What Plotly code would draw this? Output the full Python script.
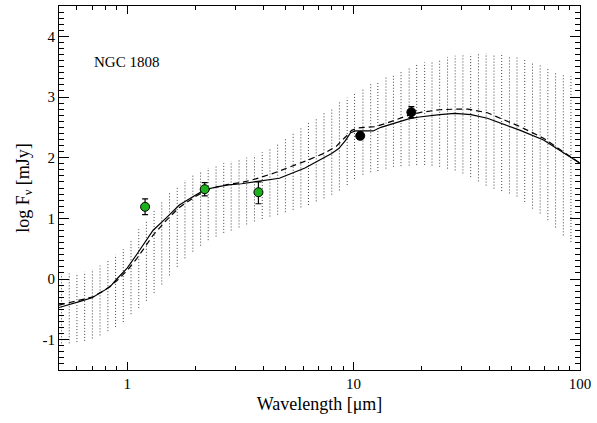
import plotly.graph_objects as go

# ---- data ----
band_wl = [0.513, 0.555, 0.600, 0.649, 0.702, 0.759, 0.822, 0.889, 0.961, 1.040,
           1.125, 1.216, 1.315, 1.422, 1.538, 1.664, 1.80, 1.95, 2.11, 2.28,
           2.47, 2.67, 2.88, 3.12, 3.37, 3.65, 3.95, 4.27, 4.62, 5.00,
           5.41, 5.85, 6.32, 6.84, 7.40, 8.01, 8.66, 9.37, 10.1, 11.0,
           11.9, 12.8, 13.9, 15.0, 16.2, 17.6, 19.0, 20.6, 22.2, 24.0,
           26.0, 28.1, 30.4, 32.9, 35.6, 38.5, 41.7, 45.1, 48.8, 52.7,
           57.0, 61.7, 66.7, 72.1, 78.0, 84.4, 91.2]
band_lo = [-1.06, -1.06, -1.04, -1.02, -0.98, -0.93, -0.86, -0.79, -0.71, -0.58,
           -0.48, -0.36, -0.23, -0.09, 0.06, 0.20, 0.34, 0.45, 0.55, 0.64,
           0.70, 0.76, 0.80, 0.85, 0.90, 0.95, 0.99, 1.03, 1.06, 1.10,
           1.14, 1.18, 1.22, 1.28, 1.33, 1.39, 1.46, 1.55, 1.65, 1.72,
           1.76, 1.78, 1.82, 1.85, 1.86, 1.87, 1.88, 1.88, 1.87, 1.85,
           1.82, 1.79, 1.74, 1.68, 1.61, 1.54, 1.49, 1.45, 1.41, 1.36,
           1.27, 1.16, 1.08, 0.97, 0.85, 0.72, 0.61]
band_hi = [0.08, 0.09, 0.10, 0.12, 0.16, 0.22, 0.31, 0.40, 0.49, 0.64,
           0.82, 0.97, 1.13, 1.29, 1.42, 1.53, 1.63, 1.72, 1.78, 1.83,
           1.88, 1.91, 1.94, 1.97, 2.00, 2.04, 2.09, 2.16, 2.22, 2.32,
           2.41, 2.49, 2.57, 2.65, 2.74, 2.82, 2.91, 2.99, 3.08, 3.15,
           3.21, 3.26, 3.32, 3.38, 3.43, 3.48, 3.53, 3.57, 3.60, 3.63,
           3.66, 3.68, 3.70, 3.71, 3.72, 3.72, 3.71, 3.70, 3.68, 3.65,
           3.61, 3.57, 3.52, 3.47, 3.42, 3.38, 3.34]

solid_wl = [0.50, 0.55, 0.62, 0.70, 0.80, 0.84, 0.90, 1.0, 1.1, 1.2, 1.3, 1.5, 1.7,
            2.0, 2.2, 2.5, 2.8, 3.2, 3.7, 4.7, 6.1, 7.0, 8.0, 8.6, 9.2, 9.7, 10.2,
            12.2, 13.2, 17.5, 19.5, 24.0, 28.0, 33.0, 39.0, 54.5, 69.0, 100.0]
solid_f = [-0.47, -0.42, -0.37, -0.31, -0.17, -0.13, 0.00, 0.18, 0.40, 0.62, 0.80, 1.02, 1.22,
           1.38, 1.47, 1.52, 1.55, 1.57, 1.60, 1.66, 1.83, 1.95, 2.07, 2.15, 2.28, 2.41, 2.44,
           2.44, 2.50, 2.64, 2.67, 2.71, 2.73, 2.71, 2.65, 2.45, 2.29, 1.91]

dash_wl = [0.50, 0.55, 0.62, 0.70, 0.80, 0.90, 1.0, 1.1, 1.2, 1.3, 1.5, 1.7, 2.0, 2.2,
           2.5, 2.8, 3.2, 3.7, 4.4, 5.2, 6.2, 7.5, 8.4, 9.2, 9.8, 10.5, 12.4, 14.0,
           17.5, 20.0, 24.0, 28.0, 32.0, 39.0, 54.5, 69.0, 100.0]
dash_f = [-0.43, -0.39, -0.35, -0.30, -0.18, -0.03, 0.14, 0.33, 0.53, 0.72, 0.98, 1.18, 1.36, 1.45,
          1.52, 1.56, 1.59, 1.65, 1.74, 1.84, 1.95, 2.08, 2.19, 2.34, 2.45, 2.49, 2.51, 2.57,
          2.70, 2.75, 2.79, 2.80, 2.80, 2.74, 2.51, 2.32, 1.91]

nir_wl = [1.2, 2.2, 3.8]
nir_f = [1.19, 1.48, 1.43]
nir_err_hi = [0.13, 0.11, 0.17]
nir_err_lo = [0.13, 0.11, 0.19]

mir_wl = [10.7, 18.0]
mir_f = [2.36, 2.75]
mir_err = [0.06, 0.09]

x_ticks = [1, 10, 100]
x_ticklabels = ["1", "10", "100"]
x_minor = [0.5, 0.6, 0.7, 0.8, 0.9, 2, 3, 4, 5, 6, 7, 8, 9, 20, 30, 40, 50, 60, 70, 80, 90]
y_ticks = [-1, 0, 1, 2, 3, 4]
y_ticklabels = ["-1", "0", "1", "2", "3", "4"]

X_RANGE = [-0.30103, 2]
Y_RANGE = [-1.5, 4.5]

# ---- figure ----
fig = go.Figure()

hx, hy = [], []
for w, lo, hi in zip(band_wl, band_lo, band_hi):
    hx += [w, w, None]
    hy += [lo, hi, None]
fig.add_trace(go.Scatter(x=hx, y=hy, mode="lines",
                         line=dict(color="#444444", width=1, dash="1px,2px"),
                         hoverinfo="skip", showlegend=False))

fig.add_trace(go.Scatter(x=dash_wl, y=dash_f, mode="lines",
                         line=dict(color="black", width=1.2, dash="6px,4px"),
                         showlegend=False))
fig.add_trace(go.Scatter(x=solid_wl, y=solid_f, mode="lines",
                         line=dict(color="black", width=1.2),
                         showlegend=False))

fig.add_trace(go.Scatter(x=nir_wl, y=nir_f, mode="markers",
                         marker=dict(color="#1cb01c", size=9,
                                     line=dict(color="black", width=1)),
                         error_y=dict(type="data", array=nir_err_hi, arrayminus=nir_err_lo,
                                      color="black", thickness=1.2, width=3),
                         showlegend=False))
fig.add_trace(go.Scatter(x=mir_wl, y=mir_f, mode="markers",
                         marker=dict(color="black", size=9,
                                     line=dict(color="black", width=1)),
                         error_y=dict(type="data", array=mir_err,
                                      color="black", thickness=1.2, width=3),
                         showlegend=False))

# invisible trace carrying the mirrored (top/right) axes
fig.add_trace(go.Scatter(x=[1], y=[0], xaxis="x2", yaxis="y2", mode="markers",
                         marker=dict(opacity=0), hoverinfo="skip", showlegend=False))

fig.add_annotation(x=0.13, y=0.845, xref="paper", yref="paper",
                   xanchor="center", yanchor="middle",
                   text="NGC 1808", showarrow=False,
                   font=dict(size=15, color="black"))

font = dict(family="Liberation Serif, Times New Roman, serif", size=15, color="black")

common_x = dict(type="log", range=X_RANGE, tickvals=x_ticks,
                ticks="inside", ticklen=8, tickwidth=1, tickcolor="black",
                showline=True, linecolor="black", linewidth=1,
                showgrid=False, zeroline=False,
                minor=dict(tickvals=x_minor, ticks="inside", ticklen=4, tickwidth=1,
                           tickcolor="black", showgrid=False))
common_y = dict(range=Y_RANGE, tickvals=y_ticks,
                ticks="inside", ticklen=10, tickwidth=1, tickcolor="black",
                showline=True, linecolor="black", linewidth=1,
                showgrid=False, zeroline=False,
                minor=dict(dtick=0.1, ticks="inside", ticklen=5, tickwidth=1,
                           tickcolor="black", showgrid=False))

fig.update_layout(
    width=597, height=423,
    margin=dict(l=59, r=14, t=6, b=53),
    paper_bgcolor="white", plot_bgcolor="white",
    font=font,
    xaxis=dict(**common_x, ticktext=x_ticklabels,
               title=dict(text="Wavelength [μm]", standoff=6)),
    yaxis=dict(**common_y, ticktext=y_ticklabels,
               title=dict(text="log F<sub>ν</sub> [mJy]", standoff=8)),
    xaxis2=dict(**common_x, overlaying="x", side="top", anchor="y2",
                showticklabels=False),
    yaxis2=dict(**common_y, overlaying="y", side="right", anchor="x2",
                showticklabels=False),
)

fig.write_html("out.html")
